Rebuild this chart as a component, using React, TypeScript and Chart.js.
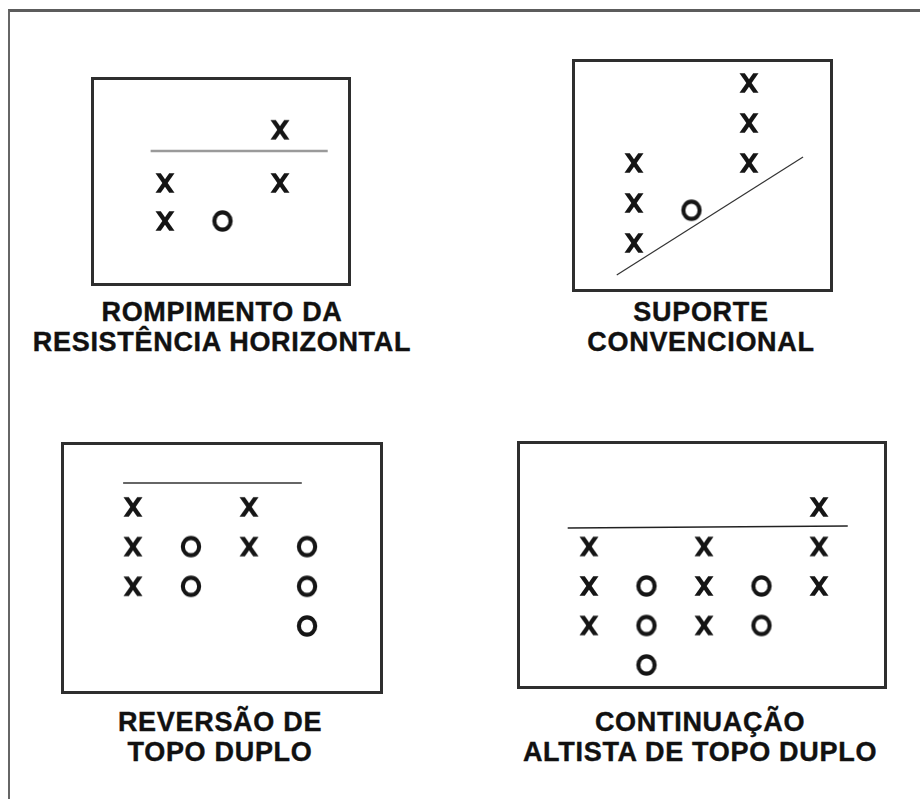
import React, { useEffect, useRef } from "react";
import { Chart, registerables } from "chart.js";

Chart.register(...registerables);

type P = [number, number]; // [column, box level]

// ---- Panel 1: Rompimento da resistência horizontal ----
const rompimentoX: P[] = [[0, 0], [0, 1], [2, 1], [2, 2.4]];
const rompimentoO: P[] = [[1, 0]];
const rompimentoLine: P[] = [[-0.25, 1.84], [2.83, 1.84]];
const rompimentoTitle = ["ROMPIMENTO DA", "RESISTÊNCIA HORIZONTAL"];

// ---- Panel 2: Suporte convencional ----
const suporteX: P[] = [[0, 0], [0, 1], [0, 2], [2, 2], [2, 3], [2, 4]];
const suporteO: P[] = [[1, 0.82]];
const suporteLine: P[] = [[-0.3, -0.8], [2.94, 2.15]];
const suporteTitle = ["SUPORTE", "CONVENCIONAL"];

// ---- Panel 3: Reversão de topo duplo ----
const reversaoX: P[] = [[0, 1], [0, 2], [0, 3], [2, 2], [2, 3]];
const reversaoO: P[] = [[1, 1], [1, 2], [3, 0], [3, 1], [3, 2]];
const reversaoLine: P[] = [[-0.17, 3.6], [2.91, 3.6]];
const reversaoTitle = ["REVERSÃO DE", "TOPO DUPLO"];

// ---- Panel 4: Continuação altista de topo duplo ----
const continuacaoX: P[] = [[0, 1], [0, 2], [0, 3], [2, 1], [2, 2], [2, 3], [4, 2], [4, 3], [4, 4]];
const continuacaoO: P[] = [[1, 0], [1, 1], [1, 2], [3, 1], [3, 2]];
const continuacaoLine: P[] = [[-0.37, 3.47], [4.5, 3.52]];
const continuacaoTitle = ["CONTINUAÇÃO", "ALTISTA DE TOPO DUPLO"];

const FONT = '"Liberation Sans", Arial, Helvetica, sans-serif';
const INK = "#151515";

// Point-style sprites shaped like the bold "X" and "O" letters of the figure.
function xSprite(): HTMLCanvasElement {
  const c = document.createElement("canvas");
  c.width = 30;
  c.height = 30;
  const ctx = c.getContext("2d")!;
  const w = 19, h = 19.5, t = 5.3;
  const x0 = 15 - w / 2, y0 = 15 - h / 2;
  ctx.fillStyle = INK;
  ctx.beginPath();
  ctx.moveTo(x0, y0);
  ctx.lineTo(x0 + t, y0);
  ctx.lineTo(x0 + w, y0 + h);
  ctx.lineTo(x0 + w - t, y0 + h);
  ctx.closePath();
  ctx.fill();
  ctx.beginPath();
  ctx.moveTo(x0 + w - t, y0);
  ctx.lineTo(x0 + w, y0);
  ctx.lineTo(x0 + t, y0 + h);
  ctx.lineTo(x0, y0 + h);
  ctx.closePath();
  ctx.fill();
  return c;
}

function oSprite(): HTMLCanvasElement {
  const c = document.createElement("canvas");
  c.width = 30;
  c.height = 30;
  const ctx = c.getContext("2d")!;
  const rx = 10.2, ry = 10.7, lw = 4.1;
  ctx.strokeStyle = INK;
  ctx.lineWidth = lw;
  ctx.beginPath();
  ctx.ellipse(15, 15, rx - lw / 2, ry - lw / 2, 0, 0, Math.PI * 2);
  ctx.stroke();
  return c;
}

const boxPlugin = {
  id: "panelBox",
  afterDraw(chart: any) {
    const { ctx, chartArea: a } = chart;
    ctx.save();
    ctx.strokeStyle = "#2e2e2e";
    ctx.lineWidth = 3;
    ctx.strokeRect(a.left + 1.5, a.top + 1.5, a.right - a.left - 3, a.bottom - a.top - 3);
    ctx.restore();
  },
};

type PanelProps = {
  left: number;
  top: number;
  width: number;
  height: number;
  xMin: number;
  xMax: number;
  yMin: number;
  yMax: number;
  xs: P[];
  os: P[];
  line: P[];
  lineColor: string;
  lineWidth: number;
};

function Panel(p: PanelProps) {
  const ref = useRef<HTMLCanvasElement>(null);
  useEffect(() => {
    if (!ref.current) return;
    const toPts = (arr: P[]) => arr.map(([x, y]) => ({ x, y }));
    const chart = new Chart(ref.current, {
      type: "scatter",
      data: {
        datasets: [
          {
            type: "line",
            data: toPts(p.line),
            borderColor: p.lineColor,
            borderWidth: p.lineWidth,
            pointRadius: 0,
            showLine: true,
            fill: false,
          } as any,
          {
            label: "X",
            data: toPts(p.xs),
            pointStyle: xSprite(),
            pointRadius: 10,
          },
          {
            label: "O",
            data: toPts(p.os),
            pointStyle: oSprite(),
            pointRadius: 10,
          },
        ],
      },
      options: {
        animation: false,
        responsive: false,
        events: [],
        layout: { padding: 0, autoPadding: false },
        plugins: { legend: { display: false }, tooltip: { enabled: false } },
        scales: {
          x: { type: "linear", display: false, min: p.xMin, max: p.xMax },
          y: { type: "linear", display: false, min: p.yMin, max: p.yMax },
        },
      },
      plugins: [boxPlugin],
    });
    return () => chart.destroy();
  }, []);
  return (
    <canvas
      ref={ref}
      width={p.width}
      height={p.height}
      style={{ position: "absolute", left: p.left, top: p.top, width: p.width, height: p.height }}
    />
  );
}

function Title({ lines, cx, top }: { lines: string[]; cx: number; top: number }) {
  return (
    <div
      style={{
        position: "absolute",
        left: cx - 250,
        top,
        width: 500,
        textAlign: "center",
        fontFamily: FONT,
        fontWeight: "bold",
        fontSize: 27,
        lineHeight: "30px",
        letterSpacing: "0.7px",
        color: "#111",
        whiteSpace: "nowrap",
        WebkitTextStroke: "0.4px #111",
      }}
    >
      {lines.map((l, i) => (
        <div key={i}>{l}</div>
      ))}
    </div>
  );
}

export default function App() {
  return (
    <div
      style={{
        position: "fixed",
        left: 0,
        top: 0,
        width: 920,
        height: 799,
        overflow: "hidden",
        background: "#fff",
      }}
    >
      <div
        style={{
          position: "absolute",
          left: 8,
          top: 9,
          width: 920,
          height: 800,
          borderTop: "3px solid #5c5c5c",
          borderLeft: "2px solid #666",
        }}
      />
      <Panel
        left={91} top={77} width={260} height={209}
        xMin={-1.287} xMax={3.235} yMin={-1.711} yMax={3.789}
        xs={rompimentoX} os={rompimentoO} line={rompimentoLine}
        lineColor="#9a9a9a" lineWidth={2.5}
      />
      <Title lines={rompimentoTitle} cx={222} top={297} />

      <Panel
        left={572} top={59} width={261} height={233}
        xMin={-1.078} xMax={3.461} yMin={-1.225} yMax={4.6}
        xs={suporteX} os={suporteO} line={suporteLine}
        lineColor="#333" lineWidth={1.2}
      />
      <Title lines={suporteTitle} cx={701} top={297} />

      <Panel
        left={61} top={442} width={322} height={252}
        xMin={-1.241} xMax={4.31} yMin={-1.713} yMax={4.635}
        xs={reversaoX} os={reversaoO} line={reversaoLine}
        lineColor="#333" lineWidth={1.5}
      />
      <Title lines={reversaoTitle} cx={220} top={707} />

      <Panel
        left={517} top={441} width={370} height={248}
        xMin={-1.252} xMax={5.183} yMin={-0.608} yMax={5.671}
        xs={continuacaoX} os={continuacaoO} line={continuacaoLine}
        lineColor="#222" lineWidth={1.5}
      />
      <Title lines={continuacaoTitle} cx={700} top={707} />
    </div>
  );
}
